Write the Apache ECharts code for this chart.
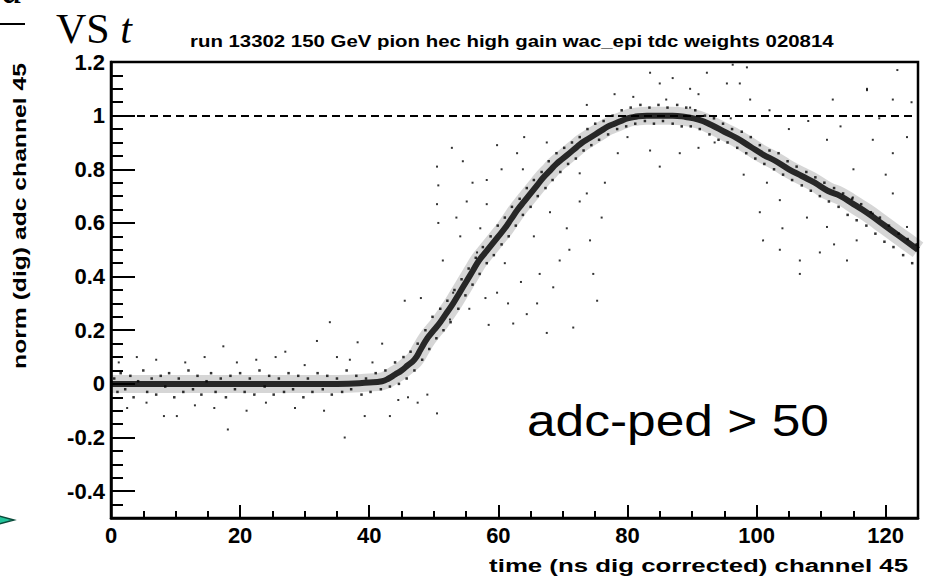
<!doctype html>
<html>
<head>
    <meta charset="utf-8">
    <title>adc vs t</title>
    <style>
        html,body{margin:0;padding:0;background:#fff;overflow:hidden;}
        #ID-Chart{width:926px;height:579px;}
    </style>
</head>
<body>
    <div id="ID-Chart"></div>
    <script src="https://cdn.jsdelivr.net/npm/echarts@6/dist/echarts.min.js"></script>
    <script>
        /*=========================
          Data
          ===========================*/
        //centre of the dense band: time (ns) / norm adc
        var tCenter=[0,5,10,15,20,25,30,35,40,42,43,
            44,45,46,47,48,49,50,51,52,53,54,55,56,57,58,59,60,61,62,63,64,65,66,67,68,69,70,71,72,73,74,75,76,77,78,79,80,81,
            83,85,87,89,91,93,95,97,99,101,103,105,107,109,111,113,115,117,119,121,123,125];
        var yCenter=[0,0,0,0,0,0,0,0,0.005,0.01,0.02,
            0.035,0.05,0.07,0.09,0.13,0.17,0.20,0.23,0.265,0.30,0.34,0.38,0.42,0.46,0.49,0.52,0.55,0.58,0.615,0.65,0.68,0.71,0.74,0.77,0.795,0.82,0.84,0.86,0.88,0.90,0.915,0.93,0.945,0.96,0.97,0.98,0.99,0.995,
            1.0,1.0,1.0,0.995,0.985,0.965,0.94,0.915,0.885,0.855,0.83,0.80,0.775,0.75,0.72,0.70,0.67,0.64,0.605,0.57,0.535,0.50];
        //events inside the band
        var bandPts=[
            [0.5,0.02],[1,-0.03],[1.5,0.04],[2.2,-0.02],[3,0.03],[3.5,-0.05],[4.2,0.01],[5,0.05],[5.6,-0.03],[6.3,0.02],
            [7,-0.04],[7.7,0.03],[8.4,-0.01],[9,0.04],[9.8,-0.05],[10.5,0.02],[11.2,-0.03],[12,0.05],[12.7,-0.02],[13.4,0.03],
            [14,-0.04],[14.8,0.01],[15.5,0.04],[16.2,-0.03],[17,0.02],[17.8,-0.05],[18.5,0.03],[19.2,-0.02],[20,0.04],[20.7,-0.03],
            [21.5,0.02],[22.2,-0.04],[23,0.05],[23.8,-0.01],[24.5,0.03],[25.2,-0.04],[26,0.02],[26.8,-0.03],[27.5,0.04],[28.2,-0.02],
            [29,0.03],[29.8,-0.05],[30.5,0.02],[31.2,-0.03],[32,0.04],[32.8,-0.02],[33.5,0.03],[34.2,-0.04],[35,0.02],[35.8,-0.03],
            [36.5,0.05],[37.2,-0.02],[38,0.03],[38.8,-0.04],[39.5,0.02],[40.2,-0.03],[41,0.04],[41.8,-0.02],[42.5,0.05],[43.2,-0.01],
            [44,0.08],[44.6,0.0],[45.3,0.1],[45.8,0.02],[46.4,0.12],[47,0.05],[47.5,0.15],[48.2,0.09],[48.7,0.2],[49.3,0.13],
            [49.8,0.25],[50.4,0.17],[51,0.28],[51.5,0.2],[52.1,0.31],[52.6,0.23],[53.2,0.35],[53.8,0.28],[54.3,0.39],[54.9,0.33],
            [55.4,0.43],[56,0.37],[56.5,0.47],[57.1,0.41],[57.6,0.51],[58.2,0.45],[58.8,0.55],[59.3,0.48],[59.9,0.59],[60.5,0.52],
            [61,0.62],[61.6,0.55],[62.1,0.66],[62.7,0.59],[63.3,0.69],[63.8,0.63],[64.4,0.73],[65,0.66],[65.5,0.76],[66.1,0.70],
            [66.7,0.79],[67.3,0.73],[67.8,0.83],[68.4,0.76],[69,0.86],[69.6,0.79],[70.2,0.88],[70.8,0.82],[71.4,0.9],[72,0.84],
            [72.6,0.92],[73.2,0.87],[73.8,0.95],[74.4,0.89],[75,0.97],[75.6,0.91],[76.3,0.98],[77,0.93],[77.7,1.0],[78.4,0.95],
            [79.1,1.02],[79.8,0.96],[80.5,1.03],[81.2,0.97],[82,1.04],[82.7,0.98],[83.4,1.03],[84.1,0.97],[84.8,1.04],[85.5,0.98],
            [86.2,1.03],[87,0.97],[87.7,1.04],[88.4,0.96],[89.1,1.03],[89.8,0.96],[90.5,1.02],[91.2,0.95],[92,1.0],[92.7,0.93],
            [93.4,0.99],[94.1,0.91],[94.8,0.97],[95.5,0.9],[96.2,0.95],[97,0.88],[97.7,0.94],[98.4,0.86],[99.1,0.92],[99.8,0.84],
            [100.5,0.89],[101.2,0.82],[102,0.87],[102.7,0.8],[103.4,0.86],[104.1,0.78],[104.8,0.83],[105.5,0.76],[106.2,0.81],[107,0.74],
            [107.7,0.79],[108.4,0.72],[109.1,0.77],[109.8,0.7],[110.5,0.75],[111.2,0.68],[112,0.73],[112.7,0.66],[113.4,0.71],[114.1,0.63],
            [114.8,0.69],[115.5,0.61],[116.2,0.67],[117,0.59],[117.7,0.64],[118.4,0.56],[119.1,0.62],[119.8,0.53],[120.5,0.59],[121.2,0.51],
            [122,0.56],[122.7,0.48],[123.4,0.54],[124.1,0.45],[124.8,0.52]
        ];
        //scattered events away from the band
        var outPts=[
            [1.2,0.08],[2.5,-0.09],[4,0.1],[5.5,-0.07],[7,0.09],[8.2,-0.12],[10.2,-0.12],[11.5,0.08],[13,-0.08],[14.5,0.1],
            [16,-0.09],[17.4,0.14],[18.1,-0.17],[19.5,0.08],[21,-0.1],[22.5,0.09],[24,-0.07],[25.5,0.1],[27,0.12],[28.5,-0.09],
            [30,0.07],[31.9,0.16],[33,-0.1],[33.9,0.23],[35,0.1],[36.2,-0.2],[37,0.09],[38.2,0.155],[39.3,-0.12],[40.5,0.08],
            [42,0.15],[43.2,-0.12],[44.5,-0.06],[46,-0.05],[47.5,-0.07],[49,-0.04],[50.5,-0.11],[48,0.32],[45.5,0.31],
            [52.8,0.88],[59.8,0.89],[50.5,0.81],[50.7,0.74],[50.5,0.67],[50.7,0.6],[51.4,0.46],[54.5,0.83],[58.2,0.76],[58.2,0.67],
            [55.1,0.68],[54.1,0.55],[57.2,0.58],[62.9,0.86],[63.8,0.8],[67.5,0.9],[66.4,0.41],[68.5,0.36],[70.6,0.58],[72.6,0.68],
            [74.2,0.535],[74.7,0.41],[75.3,0.31],[71.6,0.21],[67.5,0.19],[62.3,0.225],[64.4,0.26],[69.5,0.46],[72.6,0.785],[73.7,0.71],
            [59.8,0.34],[56.7,0.49],[53,0.34],[52.5,0.24],[58,0.32],[61,0.45],[65.5,0.55],[56,0.75],[53.5,0.62],[60.5,0.8],
            [64,0.92],[68,0.64],[71,0.5],[66,0.3],[76,0.62],[58.5,0.22],[55.5,0.28],[76.5,0.75],[63.5,0.38],[61.5,0.3],
            [96.3,1.19],[98.5,1.18],[83.5,1.16],[92.3,1.16],[85,1.12],[95.4,1.12],[89.7,1.1],[80.9,1.07],[121.8,1.17],[117.1,1.1],
            [111.8,1.06],[121.1,1.06],[73.7,1.04],[89.7,1.03],[83.5,0.87],[88.1,0.86],[85,0.81],[97.4,1.12],[99,1.06],[117.1,1.095],
            [110.9,0.91],[118,0.91],[123.3,0.92],[121.1,0.86],[101.6,0.75],[100.5,0.64],[101,0.535],[103.6,0.5],[106.7,0.46],[109.8,0.49],
            [114,0.46],[106.7,0.41],[110.9,0.585],[115.5,0.535],[121.1,0.71],[123.3,0.585],[118,0.635],[114.9,0.695],[107.8,0.62],[103.6,0.685],
            [78,1.08],[87,1.14],[91,1.08],[93.5,0.9],[80,0.92],[78.5,0.86],[91,0.88],[105,0.95],[108,0.98],[113,0.96],
            [119,0.99],[124,1.05],[102,1.02],[115,0.8],[120,0.78],[98,0.78],[112,0.52],[104,0.58],[96,0.99],[86,1.06]
        ];
        //axis ticks
        var xMajor=[0,20,40,60,80,100,120];
        var xMinor=[5,10,15,25,30,35,45,50,55,65,70,75,85,90,95,105,110,115];
        var yMajor=[-0.4,-0.2,0,0.2,0.4,0.6,0.8,1,1.2];
        var yMinor=[-0.45,-0.35,-0.3,-0.25,-0.15,-0.1,-0.05,0.05,0.1,0.15,0.25,0.3,0.35,0.45,0.5,0.55,0.65,0.7,0.75,0.85,0.9,0.95,1.05,1.1,1.15];
        var refLevel=1;

        var view={
            initialize:function(){
                this.chartId="ID-Chart";
                this.font="'Liberation Sans', Arial, Helvetica, sans-serif";
                this.serif="'Liberation Serif', 'Times New Roman', serif";
                this.centerData=[];
                for(var i=0;i<tCenter.length;i++){
                    this.centerData.push([tCenter[i],yCenter[i]]);
                }
            },
            _axisX:function(ticks,len,label){
                return {
                    type:'value',min:0,max:125,position:'bottom',offset:0,
                    axisLine:{show:label,onZero:false,lineStyle:{color:'#000',width:2.5}},
                    axisTick:{show:true,inside:true,length:len,customValues:ticks,lineStyle:{color:'#000',width:2}},
                    axisLabel:{show:label,customValues:ticks,margin:6,color:'#000',fontSize:22,fontWeight:'bold',fontFamily:this.font},
                    splitLine:{show:false}
                };
            },
            _axisY:function(ticks,len,label){
                return {
                    type:'value',min:-0.5,max:1.2,position:'left',offset:0,
                    axisLine:{show:label,onZero:false,lineStyle:{color:'#000',width:2.5}},
                    axisTick:{show:true,inside:true,length:len,customValues:ticks,lineStyle:{color:'#000',width:2}},
                    axisLabel:{show:label,customValues:ticks,margin:6,color:'#000',fontSize:22,fontWeight:'bold',fontFamily:this.font},
                    splitLine:{show:false}
                };
            },
            _initChart:function(){
                var self=this;
                this.chart=echarts.init(document.getElementById(this.chartId),null,{renderer:'svg'});
                var option={
                    animation:false,
                    backgroundColor:'#fff',
                    grid:{left:111,right:8,top:62,bottom:61,show:true,borderColor:'#000',borderWidth:2.5,backgroundColor:'transparent'},
                    xAxis:[this._axisX(xMajor,13,true),this._axisX(xMinor,7,false)],
                    yAxis:[this._axisY(yMajor,24,true),this._axisY(yMinor,12,false)],
                    graphic:[
                        {type:'text',x:2,y:-11,silent:true,
                            style:{text:'a',font:'italic 42px '+self.serif,fill:'#000',verticalAlign:'middle'}},
                        {type:'line',silent:true,shape:{x1:0,y1:24,x2:25,y2:24},style:{stroke:'#000',lineWidth:2}},
                        {type:'text',x:56,y:29,silent:true,
                            style:{text:'{v|VS }{t|t}',verticalAlign:'middle',fill:'#000',
                                rich:{v:{font:'42px '+self.serif,fill:'#000'},t:{font:'italic 42px '+self.serif,fill:'#000'}}}},
                        {type:'text',x:190,y:41,scaleX:1.2,silent:true,
                            style:{text:'run 13302 150 GeV pion hec high gain wac_epi tdc weights 020814',
                                font:'bold 17px '+self.font,fill:'#000',verticalAlign:'middle'}},
                        {type:'text',x:20,y:216,rotation:Math.PI/2,scaleX:1.3,silent:true,
                            style:{text:'norm (dig) adc channel 45',font:'bold 19px '+self.font,fill:'#000',align:'center',verticalAlign:'middle'}},
                        {type:'text',x:908,y:565,scaleX:1.36,silent:true,
                            style:{text:'time (ns dig corrected) channel 45',font:'bold 19px '+self.font,fill:'#000',align:'right',verticalAlign:'middle'}},
                        {type:'text',x:527,y:421,scaleX:1.17,silent:true,
                            style:{text:'adc-ped > 50',font:'44px '+self.font,fill:'#000',verticalAlign:'middle'}},
                        {type:'polygon',silent:true,shape:{points:[[-8,514],[14,520],[-8,526]]},
                            style:{fill:'#22c39a',stroke:'#0b4a3a',lineWidth:1.5}}
                    ],
                    series:[
                        {
                            name:'halo',type:'line',data:this.centerData,smooth:true,showSymbol:false,silent:true,z:1,
                            lineStyle:{color:'rgba(0,0,0,0.16)',width:18}
                        },
                        {
                            name:'core',type:'line',data:this.centerData,smooth:true,showSymbol:false,silent:true,z:2,
                            lineStyle:{color:'rgba(0,0,0,0.82)',width:6},
                            markLine:{
                                silent:true,symbol:['none','none'],label:{show:false},
                                lineStyle:{color:'#000',width:2,type:[8,5]},
                                data:[{yAxis:refLevel}]
                            }
                        },
                        {
                            name:'band',type:'scatter',data:bandPts,symbol:'rect',symbolSize:2.5,silent:true,z:3,
                            itemStyle:{color:'#000'}
                        },
                        {
                            name:'out',type:'scatter',data:outPts,symbol:'rect',symbolSize:2,silent:true,z:3,
                            itemStyle:{color:'#000'}
                        }
                    ]
                };
                this.chart.setOption(option);
            },
            _onLoad:function(){
                this.initialize();
                this._initChart();
            }
        };

        window.addEventListener("load",function(){
            view._onLoad();
        },false);
    </script>
</body>
</html>
